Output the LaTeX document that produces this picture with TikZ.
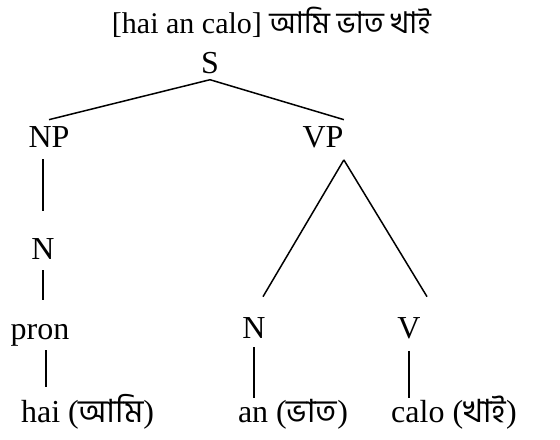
\documentclass[tikz,border=0pt]{standalone}
\usepackage{fontspec}
\setmainfont{Liberation Serif}
\newfontfamily\bn[Script=Bengali]{Hind Siliguri}
\usepackage{tikz}
\usetikzlibrary{positioning, calc}
\tikzset{
  cat/.style={font=\fontsize{16}{19}\selectfont, inner xsep=0pt,
    inner ysep=3pt, anchor=base},
  leaf/.style={cat, text height=11pt},
  title/.style={font=\fontsize{15}{18}\selectfont, inner sep=0pt, anchor=base},
  branch/.style={line width=0.75pt, color=black}
}

\begin{document}
\begin{tikzpicture}[x=0.5pt, y=-0.5pt]
  \useasboundingbox (0,0) rectangle (560,439);
  % ── Sentence on top ───────────────────────────────────────────────────────
  \node[title] (sent) at (271.5,33) {[hai an calo] {\bn আমি ভাত খাই}};
  % ── Categories ───────────────────────────────────────────────────────────
  \node[cat] (S)    at (210,73)  {S};
  \node[cat] (NP)   at (49,147)  {NP};
  \node[cat] (VP)   at (323,147) {VP};
  \node[cat] (Nnp)  at (43,259)  {N};
  \node[cat] (pron) at (40,339)  {pron};
  \node[cat] (Nvp)  at (254,338) {N};
  \node[cat] (V)    at (409,338) {V};
  % ── Words ────────────────────────────────────────────────────────────────
  \node[leaf] (hai)  at (87.5,422) {hai ({\bn আমি})};
  \node[leaf] (an)   at (293,422)  {an ({\bn ভাত})};
  \node[leaf] (calo) at (454,422)  {calo ({\bn খাই})};
  % ── Branches ─────────────────────────────────────────────────────────────
  \draw[branch] (S.south) -- (NP.north);
  \draw[branch] (S.south) -- (VP.north east);
  \draw[branch, shorten <=3pt, shorten >=10.5pt] (Nnp.north |- NP.south) -- (Nnp.north);
  \draw[branch, shorten <=2.5pt, shorten >=9pt] (Nnp.south) -- (Nnp.south |- pron.north);
  \draw[branch, shorten <=-1pt, shorten >=3.5pt]
    ([xshift=3pt]pron.south) -- ([xshift=3pt]pron.south |- hai.north);
  \draw[branch] ([yshift=-3pt]VP.south east) -- ([xshift=4.5pt, yshift=7pt]Nvp.north);
  \draw[branch] ([yshift=-3pt]VP.south east) -- ([xshift=9pt, yshift=7pt]V.north);
  \draw[branch, shorten <=1.5pt, shorten >=-2pt] (Nvp.south) -- (Nvp.south |- an.north);
  \draw[branch, shorten <=3pt, shorten >=-2pt] (V.south) -- (V.south |- calo.north);
\end{tikzpicture}
\end{document}
